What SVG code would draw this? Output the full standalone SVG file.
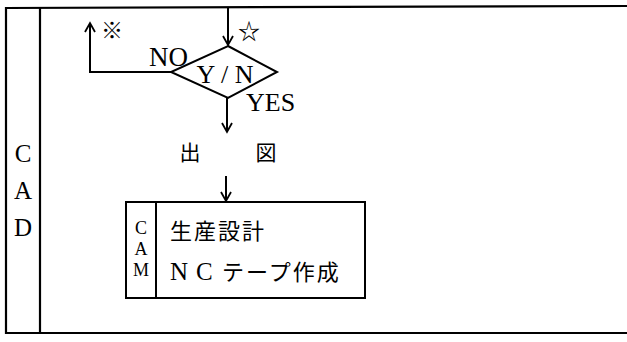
<svg xmlns="http://www.w3.org/2000/svg" width="627" height="342" viewBox="0 0 627 342">
<style>
.ln{stroke:#000;stroke-width:2;fill:none}
.fr{stroke:#000;stroke-width:2.2;fill:none}
.lat{font-family:"Liberation Serif","Times New Roman",serif;fill:#000}
.cjk{font-family:"Noto Sans CJK JP","Noto Sans CJK SC",sans-serif;fill:#000}
</style>
<defs>
<marker id="ah" viewBox="-10 -6 12 12" refX="0" refY="0" markerWidth="12" markerHeight="12" markerUnits="userSpaceOnUse" orient="auto">
<path d="M-9,-5 L0,0 L-9,5" stroke="#000" stroke-width="1.8" fill="none"/>
</marker>
</defs>
<g id="frame">
<path class="fr" d="M627,6 L6,8 L6,333 L627,333"/>
<path class="fr" d="M40,8 L40,333"/>
<text class="lat" x="23" y="162" font-size="25" text-anchor="middle">C</text>
<text class="lat" x="23" y="199" font-size="25" text-anchor="middle">A</text>
<text class="lat" x="23" y="236" font-size="25" text-anchor="middle">D</text>
</g>
<g id="decision">
<path class="ln" d="M228,46 L277,72 L228,98 L171,72 Z"/>
<text class="lat" x="225" y="83" font-size="26" text-anchor="middle">Y / N</text>
</g>
<g id="output">
<text class="cjk" x="190" y="160" font-size="21" text-anchor="middle">出</text>
<text class="cjk" x="266" y="160" font-size="21" text-anchor="middle">図</text>
</g>
<g id="cam">
<rect class="ln" x="126" y="202" width="239" height="96"/>
<path class="ln" d="M156,202 L156,298"/>
<text class="lat" x="141" y="234" font-size="18" text-anchor="middle">C</text>
<text class="lat" x="141" y="255" font-size="18" text-anchor="middle">A</text>
<text class="lat" x="141" y="276" font-size="18" text-anchor="middle">M</text>
<text class="cjk" x="170" y="239" font-size="22" letter-spacing="2">生産設計</text>
<text class="cjk" y="280" font-size="22"><tspan class="lat" x="170" font-size="25">N</tspan><tspan class="lat" x="196" font-size="25">C</tspan><tspan x="222" letter-spacing="2">テープ作成</tspan></text>
</g>
<g id="connectors">
<path class="ln" d="M228,8 L228,45" marker-end="url(#ah)"/>
<path class="ln" d="M171,72 L90,72 L90,23" marker-end="url(#ah)"/>
<path class="ln" d="M227,98 L227,132" marker-end="url(#ah)"/>
<path class="ln" d="M226,176 L226,201" marker-end="url(#ah)"/>
</g>
<g id="labels">
<text class="cjk" x="249" y="39" font-size="22" text-anchor="middle">☆</text>
<text class="cjk" x="112" y="38" font-size="22" font-weight="bold" text-anchor="middle">※</text>
<text class="lat" x="149" y="66" font-size="27">NO</text>
<text class="lat" x="246" y="111" font-size="26">YES</text>
</g>
</svg>
